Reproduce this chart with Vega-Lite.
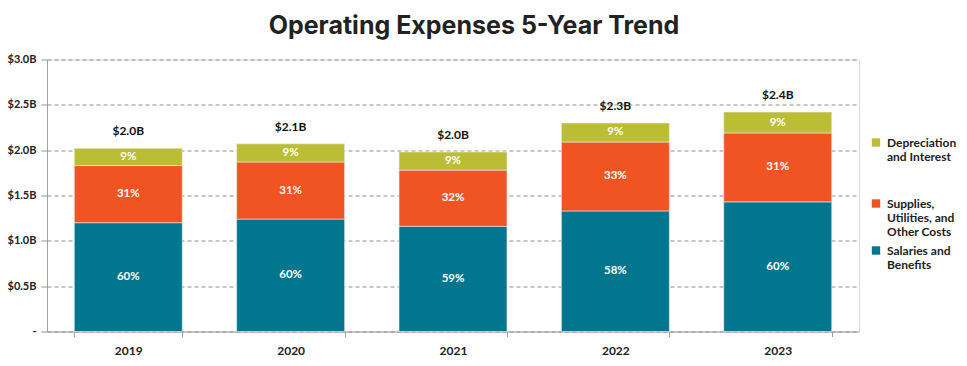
{
  "$schema": "https://vega.github.io/schema/vega-lite/v6.json",
  "width": 812,
  "height": 272,
  "autosize": {"type": "none"},
  "padding": {"left": 47, "top": 59.5, "right": 108, "bottom": 34.5},
  "background": "white",
  "title": {
    "text": "Operating Expenses 5-Year Trend",
    "font": "Inter",
    "fontSize": 25,
    "fontWeight": 700,
    "color": "#222222",
    "anchor": "middle",
    "frame": "group",
    "dx": 21,
    "offset": 15
  },
  "data": {
    "values": [
      {"year": "2019", "category": "Salaries and Benefits", "value": 1.20, "pct": "60%"},
      {"year": "2019", "category": "Supplies, Utilities, and Other Costs", "value": 0.63, "pct": "31%"},
      {"year": "2019", "category": "Depreciation and Interest", "value": 0.19, "pct": "9%"},
      {"year": "2020", "category": "Salaries and Benefits", "value": 1.24, "pct": "60%"},
      {"year": "2020", "category": "Supplies, Utilities, and Other Costs", "value": 0.63, "pct": "31%"},
      {"year": "2020", "category": "Depreciation and Interest", "value": 0.20, "pct": "9%"},
      {"year": "2021", "category": "Salaries and Benefits", "value": 1.16, "pct": "59%"},
      {"year": "2021", "category": "Supplies, Utilities, and Other Costs", "value": 0.62, "pct": "32%"},
      {"year": "2021", "category": "Depreciation and Interest", "value": 0.20, "pct": "9%"},
      {"year": "2022", "category": "Salaries and Benefits", "value": 1.33, "pct": "58%"},
      {"year": "2022", "category": "Supplies, Utilities, and Other Costs", "value": 0.76, "pct": "33%"},
      {"year": "2022", "category": "Depreciation and Interest", "value": 0.21, "pct": "9%"},
      {"year": "2023", "category": "Salaries and Benefits", "value": 1.43, "pct": "60%"},
      {"year": "2023", "category": "Supplies, Utilities, and Other Costs", "value": 0.76, "pct": "31%"},
      {"year": "2023", "category": "Depreciation and Interest", "value": 0.23, "pct": "9%"}
    ]
  },
  "transform": [
    {"calculate": "indexof(['Salaries and Benefits','Supplies, Utilities, and Other Costs','Depreciation and Interest'], datum.category)", "as": "ord"},
    {"stack": "value", "groupby": ["year"], "sort": [{"field": "ord", "order": "ascending"}], "as": ["y0", "y1"]},
    {"calculate": "(datum.y0 + datum.y1) / 2", "as": "mid"}
  ],
  "encoding": {
    "x": {
      "field": "year",
      "type": "nominal",
      "scale": {"paddingInner": 0.335, "paddingOuter": 0.168},
      "axis": {
        "title": null,
        "labelAngle": 0,
        "labelFont": "Lato",
        "labelFontWeight": "bold",
        "labelFontSize": 12,
        "labelColor": "#222222",
        "labelPadding": 9,
        "domainColor": "#a0a0a0",
        "tickColor": "#a0a0a0",
        "tickSize": 5,
        "tickBand": "extent",
        "grid": false
      }
    }
  },
  "layer": [
    {
      "mark": {"type": "bar", "stroke": "#e8f0f0", "strokeWidth": 0.6},
      "encoding": {
        "y": {
          "field": "y0",
          "type": "quantitative",
          "scale": {"domain": [0, 3]},
          "axis": {
            "title": null,
            "values": [0, 0.5, 1, 1.5, 2, 2.5, 3],
            "labelExpr": "datum.value == 0 ? '-' : '$' + format(datum.value, '.1f') + 'B'",
            "labelFont": "Lato",
            "labelFontWeight": "bold",
            "labelFontSize": 11,
            "labelColor": "#222222",
            "labelPadding": 5,
            "domainColor": "#a0a0a0",
            "tickColor": "#909090",
            "tickSize": 6,
            "grid": true,
            "gridColor": "#8c8c8c",
            "gridDash": [4, 3],
            "gridWidth": 1
          }
        },
        "y2": {"field": "y1"},
        "color": {
          "field": "category",
          "type": "nominal",
          "scale": {
            "domain": ["Depreciation and Interest", "Supplies, Utilities, and Other Costs", "Salaries and Benefits"],
            "range": ["#BBBE34", "#F05423", "#01768E"]
          },
          "legend": {
            "title": null,
            "orient": "none",
            "legendX": 823,
            "legendY": 77,
            "symbolType": "square",
            "symbolSize": 70,
            "symbolStrokeWidth": 0,
            "labelFont": "Lato",
            "labelFontWeight": "bold",
            "labelFontSize": 12,
            "labelColor": "#222222",
            "labelLimit": 200,
            "labelBaseline": "middle",
            "labelOffset": 5,
            "rowPadding": 7,
            "labelExpr": "datum.label == 'Depreciation and Interest' ? ['Depreciation', 'and Interest', '', ''] : datum.label == 'Salaries and Benefits' ? ['Salaries and', 'Benefits'] : ['Supplies,', 'Utilities, and', 'Other Costs']"
          }
        }
      }
    },
    {
      "mark": {"type": "text", "color": "white", "font": "Lato", "fontWeight": "bold", "fontSize": 11.5, "baseline": "middle"},
      "encoding": {
        "y": {"field": "mid", "type": "quantitative"},
        "text": {"field": "pct"}
      }
    },
    {
      "transform": [
        {"aggregate": [{"op": "max", "field": "y1", "as": "top"}], "groupby": ["year"]},
        {"calculate": "'$' + format(datum.top, '.1f') + 'B'", "as": "total_label"}
      ],
      "mark": {"type": "text", "color": "#111111", "font": "Lato", "fontWeight": "bold", "fontSize": 12, "baseline": "bottom", "dy": -10},
      "encoding": {
        "y": {"field": "top", "type": "quantitative"},
        "text": {"field": "total_label"}
      }
    }
  ]
}
